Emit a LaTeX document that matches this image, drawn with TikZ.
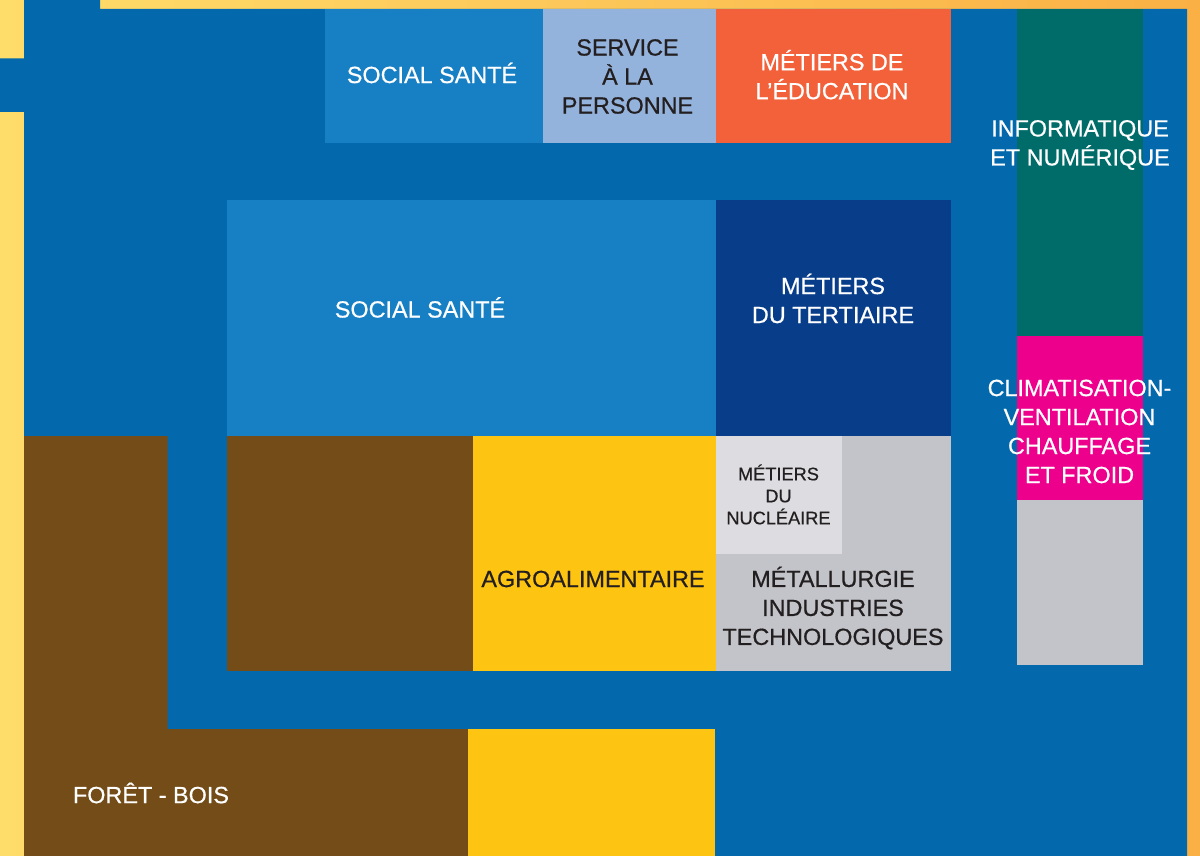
\documentclass[tikz,border=0pt]{standalone}
\usepackage{fontspec}
\setmainfont{Liberation Sans}[FakeBold=0.6]
\definecolor{mainblue}{HTML}{0369AC}
\definecolor{socialblue}{HTML}{177FC4}
\definecolor{serviceblue}{HTML}{93B2DC}
\definecolor{educorange}{HTML}{F2613A}
\definecolor{infoteal}{HTML}{006C6A}
\definecolor{climmagenta}{HTML}{EC008C}
\definecolor{metalgrey}{HTML}{C3C4C9}
\definecolor{nuclgrey}{HTML}{DDDDE1}
\definecolor{tertblue}{HTML}{083D8A}
\definecolor{woodbrown}{HTML}{744C17}
\definecolor{agroyellow}{HTML}{FDC412}
\definecolor{darktext}{HTML}{231F20}
\definecolor{frameleft}{HTML}{FFDD6B}
\definecolor{frameright}{HTML}{FAB045}
\tikzset{
  lab/.style={inner sep=0pt, align=center, font=\fontsize{23.4}{29}\selectfont},
  whitelab/.style={lab, text=white},
  darklab/.style={lab, text=darktext},
  smalllab/.style={inner sep=0pt, align=center, text=darktext, font=\fontsize{18.2}{22}\selectfont}
}
\begin{document}
\begin{tikzpicture}[x=1pt,y=-1pt]
\useasboundingbox (0,0) rectangle (1200,856);
% frame gradient
\shade[left color=frameleft, right color=frameright] (0,0) rectangle (1200,856);
% main blue area
\fill[mainblue] (24,0) -- (100,0) -- (100,9) -- (1187,9) -- (1187,856) -- (24,856)
  -- (24,112) -- (0,112) -- (0,58.5) -- (24,58.5) -- cycle;
% top row
\fill[socialblue] (325,9) rectangle (543,143);
\fill[serviceblue] (543,9) rectangle (716,143);
\fill[educorange] (716,9) rectangle (950.5,143);
% right column
\fill[infoteal] (1017,9) rectangle (1143,336);
\fill[climmagenta] (1017,336) rectangle (1143,500);
\fill[metalgrey] (1017,500) rectangle (1143,665);
% middle
\fill[socialblue] (227,200) rectangle (716,436);
\fill[tertblue] (716,200) rectangle (950.5,436);
\fill[woodbrown] (227,436) rectangle (473,671);
\fill[agroyellow] (473,436) rectangle (716,671);
\fill[metalgrey] (716,436) rectangle (950.5,671);
\fill[nuclgrey] (716,436) rectangle (842,554);
% bottom
\fill[woodbrown] (24,436) -- (167.5,436) -- (167.5,729) -- (468,729) -- (468,856) -- (24,856) -- cycle;
\fill[agroyellow] (468,729) rectangle (715,856);
% labels
\node[whitelab] (socialtop) at (432,73) {SOCIAL SANTÉ};
\node[darklab] (service) at (627.5,76.5) {SERVICE\\À LA\\PERSONNE};
\node[whitelab] (educ) at (832,74.7) {MÉTIERS DE\\L’ÉDUCATION};
\node[whitelab] (info) at (1080,145) {INFORMATIQUE\\ET NUMÉRIQUE};
\node[whitelab] (socialbig) at (420,307.5) {SOCIAL SANTÉ};
\node[whitelab] (tert) at (833,298.5) {MÉTIERS\\DU TERTIAIRE};
\node[whitelab] (clim) at (1079.5,431.5) {CLIMATISATION-\\VENTILATION\\CHAUFFAGE\\ET FROID};
\node[smalllab] (nucl) at (778.5,494.5) {MÉTIERS\\DU\\NUCLÉAIRE};
\node[darklab] (agro) at (593,579) {AGROALIMENTAIRE};
\node[darklab] (metal) at (833,608) {MÉTALLURGIE\\INDUSTRIES\\TECHNOLOGIQUES};
\node[whitelab] (foret) at (151,793) {FORÊT - BOIS};
\end{tikzpicture}
\end{document}
